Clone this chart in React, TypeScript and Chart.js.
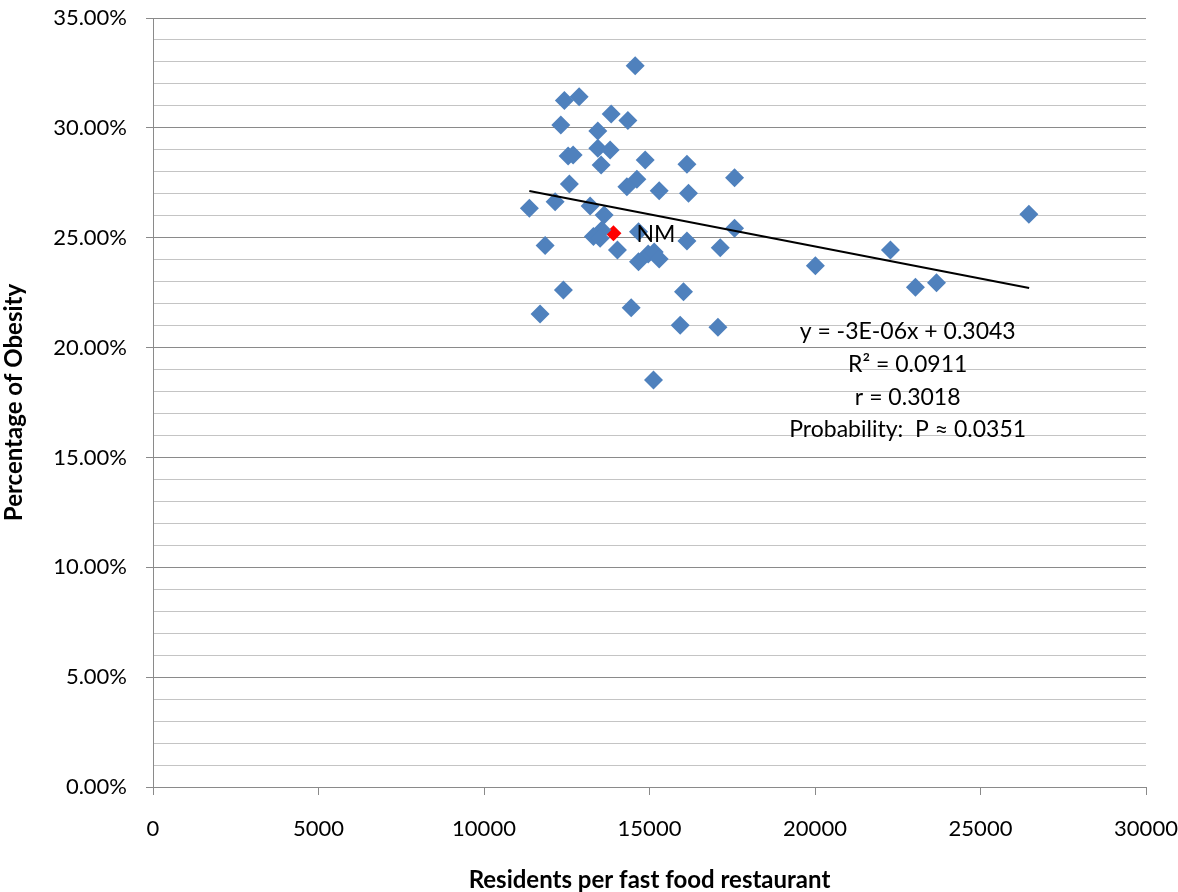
import React, { useEffect, useRef } from 'react';
import { Chart, registerables } from 'chart.js';

Chart.register(...registerables);

// Residents per fast food restaurant (x) and obesity share (y) for each state
const residents = [
  14568, 12429, 12874, 13842, 14347, 12320, 13439, 13439, 13811, 12541,
  12692, 13539, 14870, 16131, 17570, 14619, 12580, 14316, 15293, 16179,
  12148, 11371, 13206, 13630, 26461, 13560, 17570, 13306, 13509, 14667,
  11846, 14032, 16131, 17138, 22279, 14961, 15142, 15293, 14667, 20011,
  23035, 23670, 12399, 16028, 11694, 14446, 15928, 17068, 15121,
];
const obesity = [
  0.3283, 0.3124, 0.3142, 0.3063, 0.3033, 0.3013, 0.2986, 0.2907, 0.2899, 0.2872,
  0.2877, 0.2831, 0.2854, 0.2834, 0.2773, 0.2766, 0.2745, 0.2732, 0.2714, 0.2702,
  0.2664, 0.2634, 0.2644, 0.2603, 0.2607, 0.2535, 0.2543, 0.2505, 0.2497, 0.2527,
  0.2464, 0.2444, 0.2485, 0.2454, 0.2444, 0.2426, 0.2435, 0.2403, 0.2391, 0.2372,
  0.2274, 0.2295, 0.2262, 0.2254, 0.2153, 0.2181, 0.2102, 0.2092, 0.1852,
];

// Highlighted state
const nmLabel = 'NM';
const nmResidents = [13911];
const nmObesity = [0.252];

// Linear trend line end points
const trendResidents = [11370, 26470];
const trendObesity = [0.2713, 0.2271];

// Regression summary text
const regressionLines = [
  'y = -3E-06x + 0.3043',
  'R\u00B2 = 0.0911',
  'r = 0.3018',
  'Probability:  P \u2248 0.0351',
];

const xTicks = [0, 5000, 10000, 15000, 20000, 25000, 30000];
const xTitle = 'Residents per fast food restaurant';
const yTitle = 'Percentage of Obesity';

const FONT = 'Lato';
const BLUE = '#4F81BD';
const MAJOR = '#8a8a8a';
const MINOR = '#c4c4c4';

const isMajor = (v: number) => Math.round(v * 100) % 5 === 0;

const zeroPad = (s: any) => {
  s.paddingTop = 0;
  s.paddingBottom = 0;
  s.paddingLeft = 0;
  s.paddingRight = 0;
};

const textPlugin = {
  id: 'textPlugin',
  afterDatasetsDraw(chart: any) {
    const { ctx, scales } = chart;
    const x = scales.x;
    const y = scales.y;
    ctx.save();
    ctx.fillStyle = '#000';
    ctx.textBaseline = 'middle';
    // regression summary
    ctx.font = `23px ${FONT}`;
    ctx.textAlign = 'center';
    const cx = x.getPixelForValue(22800);
    const cy = y.getPixelForValue(0.2071);
    regressionLines.forEach((t, i) => ctx.fillText(t, cx, cy + i * 32.7));
    // NM label
    ctx.font = `23px ${FONT}`;
    ctx.textAlign = 'left';
    ctx.fillText(
      nmLabel,
      x.getPixelForValue(nmResidents[0]) + 23,
      y.getPixelForValue(nmObesity[0]) + 1
    );
    ctx.restore();
  },
};

export default function App() {
  const ref = useRef<HTMLCanvasElement | null>(null);

  useEffect(() => {
    if (!ref.current) return;
    Chart.defaults.font.family = FONT;
    Chart.defaults.color = '#000';
    const chart = new Chart(ref.current, {
      type: 'scatter',
      data: {
        datasets: [
          {
            type: 'line',
            data: trendResidents.map((v, i) => ({ x: v, y: trendObesity[i] })),
            borderColor: '#000',
            borderWidth: 2,
            pointRadius: 0,
            fill: false,
            order: 0,
          } as any,
          {
            data: residents.map((v, i) => ({ x: v, y: obesity[i] })),
            pointStyle: 'rectRot',
            pointRadius: 9.5,
            backgroundColor: BLUE,
            borderWidth: 0,
            order: 1,
          },
          {
            data: nmResidents.map((v, i) => ({ x: v, y: nmObesity[i] })),
            pointStyle: 'rectRot',
            pointRadius: 8,
            backgroundColor: '#ff0000',
            borderWidth: 0,
            order: 2,
          },
        ],
      },
      options: {
        responsive: false,
        animation: false,
        devicePixelRatio: 1,
        layout: { padding: { top: 18, right: 32, left: 0, bottom: 0 } },
        plugins: {
          legend: { display: false },
          tooltip: { enabled: false },
        },
        scales: {
          x: {
            type: 'linear',
            min: 0,
            max: 30000,
            afterBuildTicks: (s: any) => {
              s.ticks = xTicks.map((v) => ({ value: v }));
            },
            afterFit: (s: any) => {
              s.height = 105;
              zeroPad(s);
            },
            border: { display: true, color: MAJOR, width: 1 },
            grid: {
              drawOnChartArea: false,
              drawTicks: true,
              tickLength: 8,
              tickColor: MAJOR,
            },
            ticks: {
              autoSkip: false,
              maxRotation: 0,
              padding: 21,
              font: { size: 22, family: FONT },
              color: '#000',
              callback: (v: any) => String(v),
            },
            title: {
              display: true,
              text: xTitle,
              font: { size: 24, weight: 'bold', family: FONT, lineHeight: 1 },
              padding: { top: 0, bottom: 0 },
              color: '#000',
            },
          },
          y: {
            type: 'linear',
            min: 0,
            max: 0.35,
            afterFit: (s: any) => {
              s.width = 153;
              zeroPad(s);
            },
            border: { display: true, color: MAJOR, width: 1 },
            grid: {
              drawTicks: true,
              tickLength: 7,
              color: (c: any) => (isMajor(c.tick.value) ? MAJOR : MINOR),
              tickColor: (c: any) => (isMajor(c.tick.value) ? MAJOR : 'rgba(0,0,0,0)'),
              lineWidth: 1,
            },
            ticks: {
              stepSize: 0.01,
              autoSkip: false,
              padding: 19,
              font: { size: 22, family: FONT },
              color: '#000',
              callback: (v: any) => (isMajor(v) ? (v * 100).toFixed(2) + '%' : ''),
            },
            title: {
              display: true,
              text: yTitle,
              font: { size: 24, weight: 'bold', family: FONT, lineHeight: 1 },
              padding: { top: 2, bottom: 0 },
              color: '#000',
            },
          },
        },
      },
      plugins: [textPlugin],
    });
    return () => chart.destroy();
  }, []);

  return (
    <canvas
      ref={ref}
      width={1178}
      height={892}
      style={{ position: 'absolute', left: 0, top: 0, display: 'block', background: '#fff' }}
    />
  );
}
